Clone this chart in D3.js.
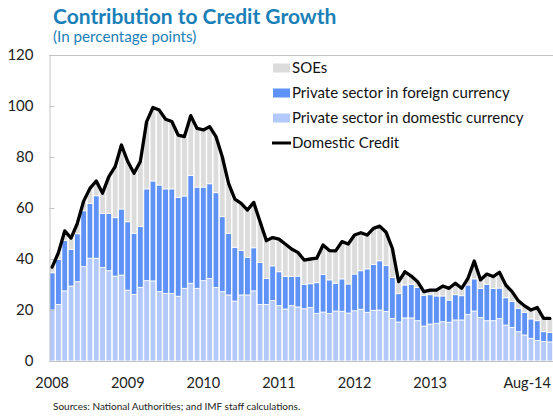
<!DOCTYPE html>
<html>
<head>
<meta charset="utf-8">
<script src="https://cdn.jsdelivr.net/npm/d3@7"></script>
<style>
  body { margin: 0; background: #fff; }
  svg { display: block; font-family: Lato, "Open Sans", sans-serif; }
</style>
</head>
<body>
<svg id="chart" width="553" height="416"></svg>
<script>
// Monthly contributions, Jan 2008 – Aug 2014 (percentage points)
const months = d3.timeMonth.range(new Date(2008, 0, 1), new Date(2014, 8, 1)).map(d3.timeFormat("%Y-%m"));

const privateDomestic = [
  20.0,22.2,27.5,29.4,31.1,37.0,40.3,40.3,36.7,35.4,
  33.3,33.7,27.8,26.1,28.9,31.5,31.4,27.2,26.5,26.5,
  25.4,28.5,30.5,28.5,31.5,32.4,28.8,27.2,25.9,23.5,
  25.9,25.9,27.5,22.2,22.2,23.7,21.7,20.4,21.7,21.2,
  20.5,21.0,18.7,19.2,18.6,19.6,19.5,18.8,19.7,20.3,
  19.1,19.9,20.0,19.4,16.7,15.3,16.9,16.9,15.8,13.7,
  14.5,14.8,15.4,15.2,16.1,16.1,18.3,19.6,17.0,15.8,
  15.8,16.6,14.1,13.2,11.5,10.2,8.9,8.0,7.7,7.5
];

const privateForeign = [
  14.6,17.7,19.7,14.4,18.8,21.9,21.5,24.5,21.1,22.4,
  22.9,25.9,26.8,24.0,23.8,36.0,39.2,41.8,41.0,41.0,
  38.8,36.2,42.3,39.7,36.7,37.1,37.2,29.4,24.2,21.1,
  17.4,14.8,16.9,16.4,10.2,13.6,13.3,12.7,11.4,12.1,
  9.6,9.3,12.0,14.8,13.2,10.9,12.7,11.4,14.4,15.1,
  17.0,18.0,19.3,18.0,16.0,11.1,12.9,13.2,13.0,12.1,
  11.5,10.7,10.1,8.7,9.9,9.5,11.5,12.6,11.4,14.3,
  12.7,12.0,10.7,10.1,9.2,8.9,7.6,7.8,3.8,3.7
];

const soes = [
  2.2,2.6,3.8,4.4,4.1,3.8,5.9,5.8,8.0,14.5,
  20.0,25.1,23.6,23.5,25.5,26.4,28.8,29.4,27.3,26.4,
  24.4,23.3,23.4,23.0,22.4,22.4,22.0,23.5,19.6,18.9,
  18.5,18.5,17.8,16.0,14.8,11.1,12.8,12.8,10.8,9.3,
  9.5,9.7,9.6,11.5,11.5,12.7,14.6,15.7,15.3,14.9,
  13.3,14.1,13.6,13.1,11.5,4.7,5.2,3.2,2.3,1.4,
  1.8,2.3,3.9,4.6,4.5,2.9,2.6,7.0,3.4,4.0,
  4.6,6.2,5.0,3.9,2.9,2.5,3.5,5.2,5.2,5.5
];

const domesticCredit = [
  36.8,42.5,51.0,48.2,54.0,62.7,67.7,70.6,65.8,72.3,
  76.2,84.7,78.2,73.6,78.2,93.9,99.4,98.4,94.8,93.9,
  88.6,88.0,96.2,91.2,90.6,91.9,88.0,80.1,69.7,63.5,
  61.8,59.2,62.2,54.6,47.2,48.4,47.8,45.9,43.9,42.6,
  39.6,40.0,40.3,45.5,43.3,43.2,46.8,45.9,49.4,50.3,
  49.4,52.0,52.9,50.5,44.2,31.1,35.0,33.3,31.1,27.2,
  27.8,27.8,29.4,28.5,30.5,28.5,32.4,39.2,31.8,34.1,
  33.1,34.8,29.8,27.2,23.6,21.6,20.0,21.0,16.7,16.7
];

const yTicks = [0, 20, 40, 60, 80, 100, 120];
const xTickMonths = ["2008-01", "2009-01", "2010-01", "2011-01", "2012-01", "2013-01", "2014-08"];
const xTickLabels = ["2008", "2009", "2010", "2011", "2012", "2013", "Aug-14"];

const seriesKeys = ["privateDomestic", "privateForeign", "soes"];
const seriesNames = {
  soes: "SOEs",
  privateForeign: "Private sector in foreign currency",
  privateDomestic: "Private sector in domestic currency"
};
const colors = { privateDomestic: "#b4c9fb", privateForeign: "#5e92f6", soes: "#dcdcdc" };

const rows = months.map((m, i) => ({
  month: m,
  privateDomestic: privateDomestic[i],
  privateForeign: privateForeign[i],
  soes: soes[i],
  credit: domesticCredit[i]
}));

const svg = d3.select("#chart");
const plotLeft = 49, plotRight = 553, plotTop = 55, plotBottom = 361;

const x = d3.scaleBand().domain(months).range([plotLeft, plotRight]).paddingInner(0.1).paddingOuter(0.05);
const y = d3.scaleLinear().domain([0, 120]).range([plotBottom, plotTop]);

// Title block
svg.append("text").attr("x", 53).attr("y", 24)
  .attr("fill", "#1a80b8").attr("font-weight", 700).attr("font-size", 21)
  .text("Contribution to Credit Growth");
svg.append("text").attr("x", 53).attr("y", 42)
  .attr("fill", "#1a80b8").attr("font-size", 15.2)
  .text("(In percentage points)");

// Stacked bars
const stacked = d3.stack().keys(seriesKeys)(rows);
svg.append("g").selectAll("g").data(stacked).join("g")
  .attr("fill", d => colors[d.key])
  .selectAll("rect").data(d => d).join("rect")
  .attr("x", d => x(d.data.month))
  .attr("width", x.bandwidth())
  .attr("y", d => y(d[1]))
  .attr("height", d => y(d[0]) - y(d[1]))
  .attr("stroke", "#fff").attr("stroke-width", 0.8);

// Frame: top rule and bottom baseline
svg.append("line").attr("x1", plotLeft).attr("x2", plotRight).attr("y1", plotTop + 0.5).attr("y2", plotTop + 0.5)
  .attr("stroke", "#c4c4c4");
svg.append("line").attr("x1", plotLeft).attr("x2", plotRight).attr("y1", plotBottom + 0.5).attr("y2", plotBottom + 0.5)
  .attr("stroke", "#c4c4c4");

// Y axis with inward ticks
const yAxis = svg.append("g").attr("transform", `translate(${plotLeft + 0.5},0)`)
  .call(d3.axisLeft(y).tickValues(yTicks).tickSize(-5).tickSizeOuter(0).tickPadding(16));
yAxis.select(".domain").attr("stroke", "#c4c4c4");
yAxis.selectAll(".tick line").attr("stroke", "#c4c4c4");
yAxis.selectAll(".tick text").attr("font-size", 15).attr("fill", "#222")
  .attr("font-family", "Lato, sans-serif");

// X axis labels
const labelOf = d3.scaleOrdinal().domain(xTickMonths).range(xTickLabels);
const xAxis = svg.append("g").attr("transform", `translate(0,${plotBottom})`)
  .call(d3.axisBottom(x).tickValues(xTickMonths).tickSize(0).tickPadding(17).tickFormat(labelOf));
xAxis.select(".domain").remove();
xAxis.selectAll(".tick text").attr("font-size", 14.5).attr("fill", "#222")
  .attr("font-family", "Lato, sans-serif");
xAxis.selectAll(".tick").filter(d => d === "2014-08").select("text")
  .attr("text-anchor", "end").attr("x", 1);

// Domestic credit line
const line = d3.line()
  .x(d => x(d.month) + x.bandwidth() / 2)
  .y(d => y(d.credit));
svg.append("path").datum(rows)
  .attr("fill", "none").attr("stroke", "#000").attr("stroke-width", 3.3)
  .attr("stroke-linejoin", "round").attr("stroke-linecap", "round")
  .attr("d", line);

// Legend
const legendItems = ["soes", "privateForeign", "privateDomestic"];
const legend = svg.append("g").attr("font-size", 15).attr("fill", "#111");
legendItems.forEach((k, i) => {
  const yy = 68 + i * 25;
  legend.append("rect").attr("x", 273).attr("y", yy - 4.5).attr("width", 17).attr("height", 9)
    .attr("fill", colors[k]);
  legend.append("text").attr("x", 292).attr("y", yy).attr("dy", "0.35em").text(seriesNames[k]);
});
legend.append("line").attr("x1", 272).attr("x2", 291).attr("y1", 143).attr("y2", 143)
  .attr("stroke", "#000").attr("stroke-width", 3);
legend.append("text").attr("x", 292).attr("y", 143).attr("dy", "0.35em").text("Domestic Credit");

// Source note
svg.append("text").attr("x", 53).attr("y", 410).attr("font-size", 10).attr("fill", "#222")
  .text("Sources: National Authorities; and IMF staff calculations.");
</script>
</body>
</html>
